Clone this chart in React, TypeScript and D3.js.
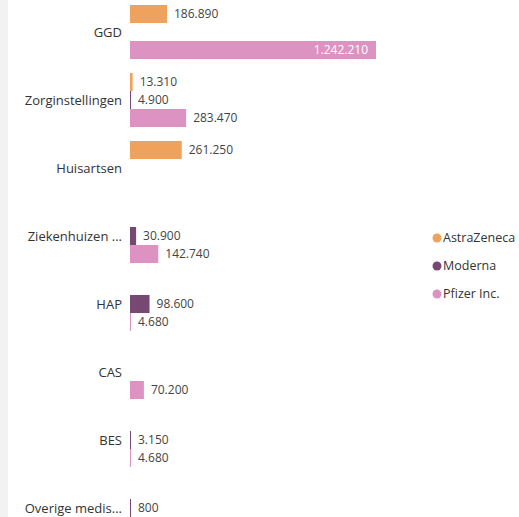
import React from "react";
import * as d3 from "d3";

const width = 519,
  height = 517;

// categories and series (null = no bar)
const categories = [
  "GGD",
  "Zorginstellingen",
  "Huisartsen",
  "Ziekenhuizen ...",
  "HAP",
  "CAS",
  "BES",
  "Overige medis...",
];
const seriesNames = ["AstraZeneca", "Moderna", "Pfizer Inc."];
const astraZeneca = [186890, 13310, 261250, null, null, null, null, null];
const moderna = [null, 4900, null, 30900, 98600, null, 3150, 800];
const pfizer = [1242210, 283470, null, 142740, 4680, 70200, 4680, null];
const seriesColors = ["#EFA25C", "#774972", "#DC93C2"];

const seriesValues = [astraZeneca, moderna, pfizer];

const font = "'Segoe UI', 'Open Sans', sans-serif";

// dotted thousands, as in nl-NL
const fmt = (v: number) => d3.format(",")(v).replace(/,/g, ".");

export default function App() {
  // y: group band per category, then series band inside it
  const y0 = d3
    .scaleBand<string>()
    .domain(categories)
    .range([-2, 542])
    .paddingInner(14 / 68)
    .paddingOuter(7 / 68);

  const y1 = d3
    .scaleBand<string>()
    .domain(seriesNames)
    .range([0, y0.bandwidth()]);

  const x = d3
    .scaleLinear()
    .domain([0, d3.max(seriesValues.flat(), d => d ?? 0) as number])
    .range([130, 376]);

  const bars: {cat: string; s: string; v: number; i: number}[] = [];
  categories.forEach((cat, ci) => {
    seriesNames.forEach((s, si) => {
      const v = seriesValues[si][ci];
      if (v != null) bars.push({cat, s, v, i: si});
    });
  });

  return (
    <svg
      width={width}
      height={height}
      style={{position: "absolute", left: 0, top: 0, background: "#fff"}}
      fontFamily={font}
    >
      <rect x={0} y={0} width={8} height={height} fill="#f2f2f2" />

      {/* category labels */}
      <g fontSize={13} fill="#333" textAnchor="end">
        {categories.map(c => (
          <text key={c} x={122} y={(y0(c) ?? 0) + y0.bandwidth() / 2} dy="0.35em">
            {c}
          </text>
        ))}
      </g>

      {/* bars */}
      <g>
        {bars.map(b => {
          const yy = (y0(b.cat) ?? 0) + (y1(b.s) ?? 0);
          const w = Math.max(1, x(b.v) - x(0));
          return (
            <rect
              key={b.cat + b.s}
              x={x(0)}
              y={yy}
              width={w}
              height={y1.bandwidth()}
              fill={seriesColors[b.i]}
            />
          );
        })}
      </g>

      {/* value labels */}
      <g fontSize={12}>
        {bars.map(b => {
          const yy = (y0(b.cat) ?? 0) + (y1(b.s) ?? 0) + y1.bandwidth() / 2;
          const inside = x(b.v) > 330;
          return (
            <text
              key={b.cat + b.s}
              x={inside ? x(b.v) - 8 : Math.max(x(b.v), x(0) + 1) + 7}
              y={yy}
              dy="0.35em"
              textAnchor={inside ? "end" : "start"}
              fill={inside ? "#fff" : "#444"}
            >
              {fmt(b.v)}
            </text>
          );
        })}
      </g>

      {/* legend */}
      <g fontSize={12.5} fill="#333">
        {seriesNames.map((s, i) => (
          <g key={s} transform={`translate(437,${238 + i * 28})`}>
            <circle r={4.5} fill={seriesColors[i]} />
            <text x={6} dy="0.35em">
              {s}
            </text>
          </g>
        ))}
      </g>
    </svg>
  );
}
